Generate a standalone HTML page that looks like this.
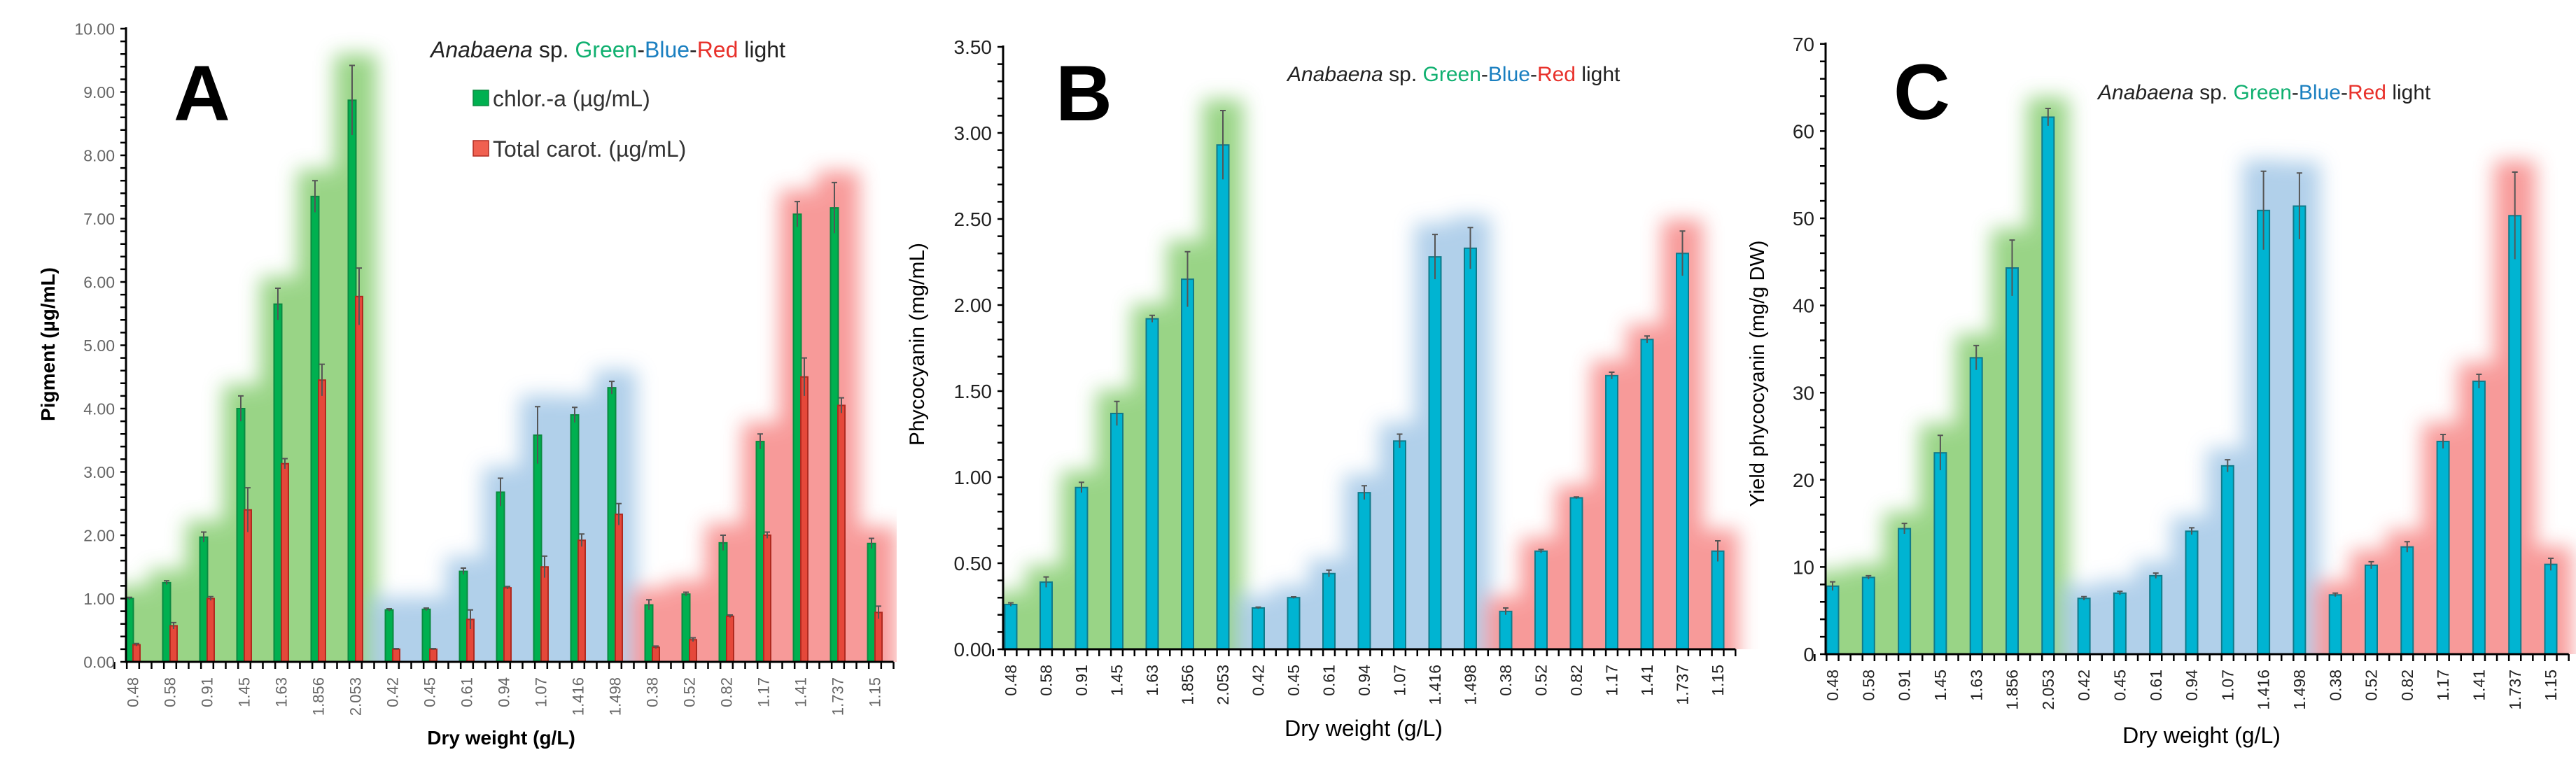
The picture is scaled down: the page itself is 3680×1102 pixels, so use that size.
<!DOCTYPE html>
<html><head><meta charset="utf-8"><style>
html,body{margin:0;padding:0;background:#fff}
svg{display:block}
text{font-family:"Liberation Sans",sans-serif}
</style></head><body>
<svg id="fig" width="3680" height="1102" viewBox="0 0 3680 1102">
<defs>
<filter id="blur" x="-20%" y="-20%" width="140%" height="140%"><feGaussianBlur stdDeviation="14"/></filter>
<clipPath id="clipA"><rect x="181" y="0" width="1100" height="946"/></clipPath>
<clipPath id="clipB"><rect x="1434" y="0" width="1100" height="928"/></clipPath>
<clipPath id="clipC"><rect x="2609" y="0" width="1100" height="935"/></clipPath>
</defs>
</svg>
<script>
const categories = ["0.48","0.58","0.91","1.45","1.63","1.856","2.053","0.42","0.45","0.61","0.94","1.07","1.416","1.498","0.38","0.52","0.82","1.17","1.41","1.737","1.15"];
const groups = [0,0,0,0,0,0,0,1,1,1,1,1,1,1,2,2,2,2,2,2,2];
const chlorA = [1.0,1.25,1.97,4.0,5.65,7.35,8.87,0.82,0.83,1.43,2.68,3.58,3.9,4.33,0.9,1.07,1.88,3.48,7.07,7.17,1.87];
const chlorErr = [0.02,0.03,0.08,0.2,0.25,0.25,0.55,0.02,0.02,0.05,0.22,0.45,0.12,0.1,0.08,0.03,0.12,0.12,0.2,0.4,0.08];
const carot = [0.27,0.57,1.0,2.4,3.13,4.45,5.77,0.2,0.2,0.67,1.17,1.5,1.92,2.33,0.23,0.35,0.72,2.0,4.5,4.05,0.78];
const carotErr = [0.02,0.05,0.03,0.35,0.08,0.25,0.45,0.01,0.01,0.15,0.02,0.17,0.1,0.17,0.02,0.03,0.02,0.05,0.3,0.12,0.1];
const phyco = [0.26,0.39,0.94,1.37,1.92,2.15,2.93,0.24,0.30,0.44,0.91,1.21,2.28,2.33,0.22,0.57,0.88,1.59,1.80,2.30,0.57];
const phycoErr = [0.01,0.03,0.03,0.07,0.02,0.16,0.2,0.005,0.005,0.02,0.04,0.04,0.13,0.12,0.02,0.01,0.005,0.02,0.02,0.13,0.06];
const yieldPC = [7.8,8.8,14.4,23.1,34.0,44.3,61.6,6.4,7.0,9.0,14.1,21.6,50.9,51.4,6.8,10.2,12.3,24.4,31.3,50.3,10.3];
const yieldErr = [0.5,0.2,0.6,2,1.4,3.2,1.0,0.2,0.2,0.3,0.4,0.7,4.5,3.8,0.2,0.4,0.6,0.8,0.8,5,0.7];
const ticksA = ["0.00","1.00","2.00","3.00","4.00","5.00","6.00","7.00","8.00","9.00","10.00"];
const ticksB = ["0.00","0.50","1.00","1.50","2.00","2.50","3.00","3.50"];
const ticksC = ["0","10","20","30","40","50","60","70"];

const NS = "http://www.w3.org/2000/svg";
const svg = document.getElementById('fig');
function mk(tag, attrs, parent, txt){
  const e = document.createElementNS(NS, tag);
  for (const k in attrs) e.setAttribute(k, attrs[k]);
  if (txt !== undefined) e.textContent = txt;
  (parent || svg).appendChild(e);
  return e;
}
const glowCols = ["#8fd07a","#a9cbe8","#f7908f"];

function panel(cfg){
  const g = mk('g', {});
  
  
  const y = v => cfg.base - v * cfg.unit;
  const x = i => cfg.c0 + i * cfg.dx;
  const right = x(categories.length - 1) + cfg.dx / 2;
  const gl = mk('g', {'clip-path': 'url(#' + cfg.clip + ')'}, g);
  
  
  const gb = mk('g', {filter: 'url(#blur)', opacity: 0.9}, gl);
  categories.forEach((c, i) => {
    let m = 0;
    cfg.series.forEach(s => { m = Math.max(m, s.vals[i] + s.err[i]); });
    const top = y(m) - 16;
    const r = mk('rect', {x: x(i) - cfg.dx / 2 - 4, y: top, width: cfg.dx + 8, height: cfg.base - top + 40, fill: glowCols[groups[i]]}, gb);
    
    
  });
  cfg.series.forEach(s => {
    categories.forEach((c, i) => {
      const v = s.vals[i];
      const bx = x(i) + s.off - s.w / 2;
      const b = mk('rect', {x: bx, y: y(v), width: s.w, height: v * cfg.unit, fill: s.fill, stroke: s.stroke, 'stroke-width': 2}, g);
      
      
      const e = s.err[i];
      const eb = mk('path', {d: 'M' + (x(i) + s.off) + ' ' + y(v + e) + 'V' + y(v - e) + 'M' + (x(i) + s.off - 4) + ' ' + y(v + e) + 'h8', stroke: '#555', 'stroke-width': 2, fill: 'none'}, g);
      
      
    });
  });
  const ax = mk('path', {d: 'M' + cfg.x0 + ' ' + (y(cfg.ymax) - 2) + 'V' + cfg.base + 'H' + right, stroke: '#000', 'stroke-width': 3, fill: 'none'}, g);
  
  
  let d = '';
  const nMinor = Math.round(cfg.ymax / cfg.minor);
  for (let k = 0; k <= nMinor; k++) d += 'M' + (cfg.x0 - 8) + ' ' + y(k * cfg.minor) + 'h8';
  for (let k = 0; k <= categories.length * 3; k++) d += 'M' + (cfg.c0 - cfg.dx / 2 + k * cfg.dx / 3) + ' ' + cfg.base + 'v10';
  const tk = mk('path', {d: d, stroke: '#000', 'stroke-width': 2.5, fill: 'none'}, g);
  
  
  cfg.ticks.forEach((t, k) => {
    const tl = mk('text', {x: cfg.x0 - 16, y: y(parseFloat(t)) + cfg.tfs * 0.36, 'text-anchor': 'end', 'font-size': cfg.tfs, fill: cfg.tcol}, g, t);
    
    
  });
  categories.forEach((c, i) => {
    const xx = x(i) + cfg.xfs * 0.35;
    const tl = mk('text', {x: xx, y: cfg.base + 22, transform: 'rotate(-90 ' + xx + ' ' + (cfg.base + 22) + ')', 'text-anchor': 'end', 'font-size': cfg.xfs, fill: cfg.tcol}, g, c);
    
    
  });
  const yt = mk('text', {x: cfg.ytX, y: cfg.ytY, transform: 'rotate(-90 ' + cfg.ytX + ' ' + cfg.ytY + ')', 'text-anchor': 'middle', 'font-size': cfg.ytFs, 'font-weight': cfg.bold ? 'bold' : 'normal', fill: '#000'}, g, cfg.ytitle);
  
  
  const xt = mk('text', {x: cfg.xtX, y: cfg.xtY, 'text-anchor': 'middle', 'font-size': cfg.xtFs, 'font-weight': cfg.bold ? 'bold' : 'normal', fill: '#000'}, g, 'Dry weight (g/L)');
  
  
  const lt = mk('text', {x: cfg.letterX, y: cfg.letterY, 'font-size': 112, 'font-weight': 'bold', fill: '#000'}, g, cfg.letter);
  
  
  const tt = mk('text', {x: cfg.titleX, y: cfg.titleY, 'font-size': cfg.titleFs, fill: '#222'}, g);
  
  
  mk('tspan', {'font-style': 'italic'}, tt, 'Anabaena');
  mk('tspan', {}, tt, ' sp. ');
  mk('tspan', {fill: '#10b070'}, tt, 'Green');
  mk('tspan', {}, tt, '-');
  mk('tspan', {fill: '#1a7fc0'}, tt, 'Blue');
  mk('tspan', {}, tt, '-');
  mk('tspan', {fill: '#e8302a'}, tt, 'Red');
  mk('tspan', {}, tt, '  light');
  return g;
}

panel({name: 'panel-a-pigment-chart', clip: 'clipA', x0: 180, base: 946, unit: 90.5, ymax: 10, minor: 0.2, c0: 190, dx: 53,
  series: [
    {key: 'chlor-a', vals: chlorA, err: chlorErr, off: -5, w: 11, fill: '#00b050', stroke: '#0a8a40'},
    {key: 'carot', vals: carot, err: carotErr, off: 5, w: 10, fill: '#e5483a', stroke: '#b02a20'}],
  ticks: ticksA, tfs: 23, tcol: '#666', xfs: 22, ytitle: 'Pigment (µg/mL)', ytX: 78, ytY: 492, ytFs: 28, bold: true,
  xtX: 716, xtY: 1064, xtFs: 28, letter: 'A', letterX: 248, letterY: 172, titleX: 615, titleY: 82, titleFs: 32});

panel({name: 'panel-b-phycocyanin-chart', clip: 'clipB', x0: 1433, base: 928, unit: 246, ymax: 3.5, minor: 0.1, c0: 1444, dx: 50.5,
  series: [{key: 'phycocyanin', vals: phyco, err: phycoErr, off: 0, w: 17, fill: '#00b4d2', stroke: '#117a8a'}],
  ticks: ticksB, tfs: 28, tcol: '#222', xfs: 23, ytitle: 'Phycocyanin (mg/mL)', ytX: 1320, ytY: 492, ytFs: 30, bold: false,
  xtX: 1948, xtY: 1052, xtFs: 32, letter: 'B', letterX: 1508, letterY: 172, titleX: 1839, titleY: 116, titleFs: 30});

panel({name: 'panel-c-yield-chart', clip: 'clipC', x0: 2608, base: 935, unit: 12.46, ymax: 70, minor: 2, c0: 2618, dx: 51.3,
  series: [{key: 'yield', vals: yieldPC, err: yieldErr, off: 0, w: 17, fill: '#00b4d2', stroke: '#117a8a'}],
  ticks: ticksC, tfs: 28, tcol: '#222', xfs: 23, ytitle: 'Yield phycocyanin (mg/g DW)', ytX: 2520, ytY: 534, ytFs: 29, bold: false,
  xtX: 3145, xtY: 1062, xtFs: 32, letter: 'C', letterX: 2705, letterY: 170, titleX: 2997, titleY: 142, titleFs: 30});

const lg = mk('g', {});


const l1 = mk('rect', {x: 676, y: 129, width: 22, height: 22, fill: '#00b050', stroke: '#0a8a40', 'stroke-width': 1.5}, lg);


const t1 = mk('text', {x: 704, y: 152, 'font-size': 32, fill: '#333'}, lg, 'chlor.-a (µg/mL)');


const l2 = mk('rect', {x: 676, y: 201, width: 22, height: 22, fill: '#f06050', stroke: '#b02a20', 'stroke-width': 1.5}, lg);


const t2 = mk('text', {x: 704, y: 224, 'font-size': 32, fill: '#333'}, lg, 'Total carot. (µg/mL)');


</script>
</body></html>
